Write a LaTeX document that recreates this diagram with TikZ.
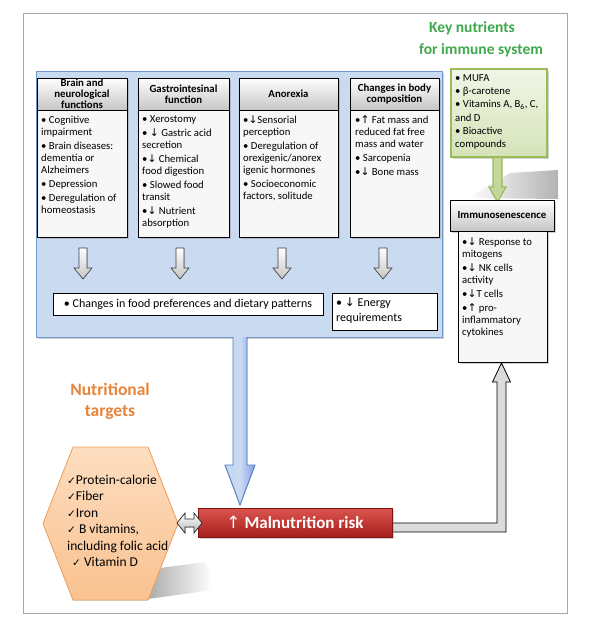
\documentclass[tikz,border=0pt]{standalone}
\usepackage{fontspec}
\setmainfont{Carlito}
\newfontfamily\symf{DejaVu Sans}
\newcommand\dn{{\symf ↓}}
\newcommand\upa{{\symf ↑}}
\newcommand\ck{{\symf\fontsize{10.5}{10.5}\selectfont ✓}}
\usetikzlibrary{shadows}
\definecolor{bluefill}{HTML}{C9DAF1}
\definecolor{blueline}{HTML}{7096CB}
\definecolor{arrowblue}{HTML}{A6C3E8}
\definecolor{arrowblueline}{HTML}{4F7FC0}
\definecolor{greenline}{HTML}{9BBB59}
\definecolor{greentop}{HTML}{F1F6E6}
\definecolor{greenbot}{HTML}{D5E3B8}
\definecolor{greenarrow}{HTML}{C3D69B}
\definecolor{keygreen}{HTML}{3EA84B}
\definecolor{orangetxt}{HTML}{E7843A}
\definecolor{hextop}{HTML}{FDDDC0}
\definecolor{hexbot}{HTML}{F9C290}
\definecolor{hexline}{HTML}{F2A35E}
\definecolor{redtop}{HTML}{DD5550}
\definecolor{redbot}{HTML}{A61E1B}
\definecolor{redline}{HTML}{7E1512}
\definecolor{framegray}{HTML}{A6A6A6}
\begin{document}
\begin{tikzpicture}[x=1pt,y=-1pt,
  shad/.style={drop shadow={opacity=0.35,shadow xshift=2pt,shadow yshift=-2pt}},
  hdr/.style={draw=black,line width=0.8pt,top color=white,bottom color=gray!45,inner sep=0pt,align=center,font=\fontsize{10.8}{11}\selectfont\bfseries,shad},
  bodybox/.style={draw=black,line width=0.8pt,fill=gray!6,inner sep=0pt,shad},
  whitebox/.style={draw=black,line width=1pt,fill=white,inner sep=0pt},
  btxt/.style={anchor=north west,inner sep=0pt,align=left,font=\fontsize{10.7}{12}\selectfont},
  smallarrow/.style={draw=gray!50!black,line width=0.6pt,top color=white,bottom color=gray!45},
  keyfont/.style={inner sep=0pt,font=\fontsize{15.5}{18}\selectfont\bfseries,text=keygreen},
]
\useasboundingbox (0,0) rectangle (595,626);
\fill[white] (0,0) rectangle (595,626);
\draw[framegray,line width=0.7pt] (23,13) rectangle (567,613);

% titles
\node (kn1) [keyfont] at (472,28) {Key nutrients};
\node (kn2) [keyfont] at (481,50) {for immune system};
\node (nt) [inner sep=0pt,align=center,font=\fontsize{17.5}{21}\selectfont\bfseries,text=orangetxt] at (110,401) {Nutritional\\targets};

% blue panel
\node (blue) [draw=blueline,line width=1pt,fill=bluefill,minimum width=406,minimum height=266,inner sep=0pt,shad] at (239,204) {};

% column headers and bodies
\node (h1) [hdr,minimum width=90,minimum height=32] at (82,94) {Brain and\\neurological\\functions};
\node (h2) [hdr,minimum width=91,minimum height=32] at (183.5,94) {Gastrointesinal\\function};
\node (h3) [hdr,minimum width=99,minimum height=32] at (288.5,94) {Anorexia};
\node (h4) [hdr,minimum width=89,minimum height=32] at (394.5,94) {Changes in body\\composition};
\node (b1) [bodybox,minimum width=90,minimum height=127] at (82,173.5) {};
\node (b2) [bodybox,minimum width=91,minimum height=127] at (183.5,173.5) {};
\node (b3) [bodybox,minimum width=99,minimum height=127] at (288.5,173.5) {};
\node (b4) [bodybox,minimum width=89,minimum height=127] at (394.5,173.5) {};

\node (t1) [btxt] at (41,115.5) {•~Cognitive\\impairment\\[2pt]•~Brain diseases:\\dementia or\\Alzheimers\\[2pt]•~Depression\\[2pt]•~Deregulation of\\homeostasis};
\node (t2) [btxt] at (142,115.5) {•~Xerostomy\\[2pt]•~\dn~Gastric acid\\secretion\\[2pt]•\dn~Chemical\\food digestion\\[2pt]•~Slowed food\\transit\\[2pt]•\dn~Nutrient\\absorption};
\node (t3) [btxt] at (243,115.5) {•\dn Sensorial\\perception\\[2pt]•~Deregulation of\\orexigenic/anorex\\igenic hormones\\[2pt]•~Socioeconomic\\factors, solitude};
\node (t4) [btxt] at (355,115.5) {•\upa~Fat mass and\\reduced fat free\\mass and water\\[2pt]•~Sarcopenia\\[2pt]•\dn~Bone mass};

% small down arrows
\foreach \x in {83,180,282,383}{
  \filldraw[smallarrow] (\x-4,248) -- (\x+4,248) -- (\x+4,268) -- (\x+9,268) -- (\x,279) -- (\x-9,268) -- (\x-4,268) -- cycle;
}

% lower boxes in the panel
\node (food) [whitebox,minimum width=270,minimum height=22,font=\fontsize{12}{14}\selectfont] at (188,304) {•~Changes in food preferences and dietary patterns};
\node (energy) [whitebox,minimum width=105,minimum height=37] at (384.5,311.5) {};
\node (et) [btxt,font=\fontsize{12}{15}\selectfont] at (336,297.5) {•~\dn~Energy\\requirements};

% blue arrow
\filldraw[draw=arrowblueline,line width=0.9pt,left color=arrowblue!70!white,right color=arrowblue!80!blue,middle color=arrowblue!60!white]
  (233,337) -- (233,465) -- (225,465) -- (240,505) -- (255,465) -- (247,465) -- (247,337);

% green box and arrow
\shade[left color=white,right color=gray!60] (468,198) -- (510,173) -- (558,170) -- (558,199) -- cycle;
\node (gb) [draw=greenline,line width=1.3pt,top color=greentop,bottom color=greenbot,minimum width=96,minimum height=88,inner sep=0pt,shad] at (499,113) {};
\node (gt) [btxt,font=\fontsize{10.7}{13.2}\selectfont] at (455,74.5) {•~MUFA\\•~β-carotene\\•~Vitamins A, B\textsubscript{6}, C,\\and D\\•~Bioactive\\compounds};
\filldraw[draw=greenline,line width=1.2pt,fill=greenarrow]
  (493,158) -- (493,187) -- (489,187) -- (497.5,202) -- (506,187) -- (502,187) -- (502,158);

% immunosenescence
\node (ih) [hdr,minimum width=104,minimum height=31] at (502,215.5) {Immunosenescence};
\node (ib) [bodybox,minimum width=89,minimum height=131] at (502.5,296.5) {};
\node (it) [btxt] at (462,237.5) {•\dn~Response to\\mitogens\\[2pt]•\dn~NK cells\\activity\\[2pt]•\dn T cells\\[2pt]•\upa~pro-\\inflammatory\\cytokines};

% gray L arrow
\filldraw[draw=black,line width=0.8pt,fill=gray!28]
  (392,523) -- (497,523) -- (497,382) -- (492.5,382) -- (501.5,363) -- (510.5,382) -- (506,382) -- (506,532) -- (392,532) -- cycle;

% hexagon
\shade[left color=gray!65,right color=white] (148,599) -- (160,568) -- (206,562) -- (213,590) -- cycle;
\coordinate (hexL) at (43,523.5);
\coordinate (hexR) at (178,523.5);
\filldraw[draw=hexline,line width=0.8pt,top color=hextop,bottom color=hexbot]
  (hexL) -- (73,447) -- (148,447) -- (hexR) -- (148,600) -- (73,600) -- cycle;
\node (ht) [btxt,font=\fontsize{13.5}{16.5}\selectfont] at (67,474.5) {\ck Protein-calorie\\\ck Fiber\\\ck Iron\\\ck~B vitamins,\\including folic acid\\\hspace*{5pt}\ck~Vitamin D};

% malnutrition box
\node (mal) [draw=redline,line width=0.8pt,top color=redtop,bottom color=redbot,minimum width=194,minimum height=29,inner sep=0pt,text=white,font=\fontsize{17}{17}\selectfont\bfseries,shad] at (295,522.5) {{\mdseries\upa}~Malnutrition risk};

% double arrow
\filldraw[draw=gray!35!black,line width=0.7pt,top color=white,bottom color=gray!55]
  (177,523) -- (185,513) -- (185,519) -- (194,519) -- (194,513) -- (202,523) -- (194,533) -- (194,527) -- (185,527) -- (185,533) -- cycle;
\end{tikzpicture}
\end{document}
